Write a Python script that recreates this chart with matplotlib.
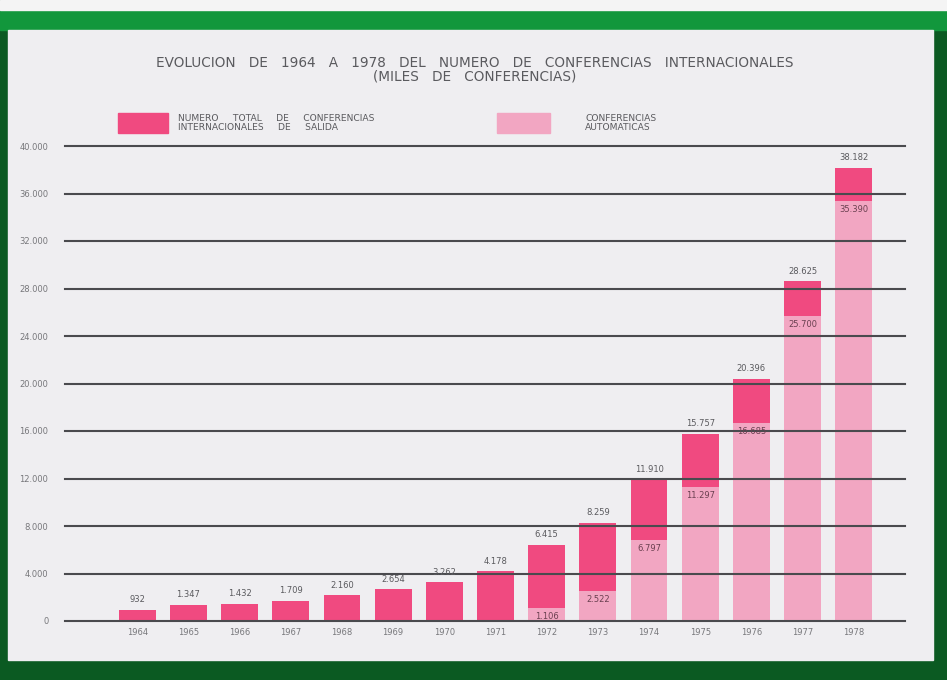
"""Evolucion de conferencias internacionales 1964-1978 (bar chart)."""

import matplotlib

matplotlib.use("Agg")
import matplotlib.pyplot as plt
from matplotlib.patches import Rectangle

YEARS = [1964, 1965, 1966, 1967, 1968, 1969, 1970, 1971,
         1972, 1973, 1974, 1975, 1976, 1977, 1978]
TOTAL = [932, 1347, 1432, 1709, 2160, 2654, 3262, 4178,
         6415, 8259, 11910, 15757, 20396, 28625, 38182]
AUTOMATIC = [0, 0, 0, 0, 0, 0, 0, 0,
             1106, 2522, 6797, 11297, 16685, 25700, 35390]
Y_TICKS = [0, 4000, 8000, 12000, 16000, 20000, 24000, 28000, 32000, 36000, 40000]

TITLE = ("EVOLUCION   DE   1964   A   1978   DEL   NUMERO   DE   CONFERENCIAS   INTERNACIONALES\n"
         "(MILES   DE   CONFERENCIAS)")
LEGEND_TOTAL = "NUMERO     TOTAL     DE     CONFERENCIAS\nINTERNACIONALES     DE     SALIDA"
LEGEND_AUTO = "CONFERENCIAS\nAUTOMATICAS"

DARK_PINK = "#f04a80"
LIGHT_PINK = "#f2a6c2"
PAPER = "#efeef1"
TEXT = "#5a5a5e"
FONT = ["Liberation Sans Narrow", "DejaVu Sans"]

W, H = 947, 680


def fmt(v: int) -> str:
    return f"{v:,}".replace(",", ".")


def px(x, y):
    # figure pixel (from top-left) -> figure fraction
    return x / W, 1 - y / H


def draw_frame(fig) -> None:
    fig.patches.append(Rectangle((0, 0), 1, 1, transform=fig.transFigure,
                                 color="#0b5a22", zorder=-10))
    x0, y0 = px(0, 30)
    fig.patches.append(Rectangle((x0, y0), 1, 20 / H, transform=fig.transFigure,
                                 color="#12973c", zorder=-9))
    fig.patches.append(Rectangle((0, 1 - 10 / H), 1, 10 / H, transform=fig.transFigure,
                                 color="#f4f4f4", zorder=-9))
    x0, y0 = px(8, 660)
    fig.patches.append(Rectangle((x0, y0), (933 - 8) / W, (660 - 30) / H,
                                 transform=fig.transFigure, color=PAPER, zorder=-8))


def main() -> None:
    fig = plt.figure(figsize=(W / 100, H / 100), dpi=100)
    draw_frame(fig)

    left, bottom = px(65, 621)
    right, top = px(905, 146)
    ax = fig.add_axes([left, bottom, right - left, top - bottom])
    ax.set_facecolor("none")

    xs = list(range(len(YEARS)))
    width = 0.72
    dark_heights = [t - a for t, a in zip(TOTAL, AUTOMATIC)]
    ax.bar(xs, AUTOMATIC, width=width, color=LIGHT_PINK, zorder=2)
    ax.bar(xs, dark_heights, bottom=AUTOMATIC, width=width, color=DARK_PINK, zorder=2)

    for y in Y_TICKS:
        ax.axhline(y, color="#4a4a4e", linewidth=1.5, zorder=3, clip_on=False)

    for x, t, a in zip(xs, TOTAL, AUTOMATIC):
        ax.annotate(fmt(t), (x, t), xytext=(0, 4), textcoords="offset points",
                    ha="center", va="bottom", fontsize=6, color=TEXT, family=FONT)
        if a:
            ax.annotate(fmt(a), (x, a), xytext=(0, -3), textcoords="offset points",
                        ha="center", va="top", fontsize=6, color="#6a4050", family=FONT)

    ax.set_xlim(-1.41, 15.0)
    ax.set_ylim(0, 40000)
    ax.set_yticks(Y_TICKS)
    ax.set_yticklabels([fmt(v) for v in Y_TICKS], family=FONT)
    ax.set_xticks(xs)
    ax.set_xticklabels([str(y) for y in YEARS], family=FONT)
    ax.tick_params(axis="both", length=0, labelsize=6, labelcolor="#77777b")
    ax.tick_params(axis="y", pad=12)
    ax.tick_params(axis="x", pad=5)
    for spine in ax.spines.values():
        spine.set_visible(False)

    tx, ty = px(475, 70)
    fig.text(tx, ty, TITLE, ha="center", va="center", fontsize=9.8, color=TEXT,
             family=FONT, linespacing=1.0)

    x0, y0 = px(118, 133)
    fig.patches.append(Rectangle((x0, y0), 50 / W, 20 / H, transform=fig.transFigure,
                                 color=DARK_PINK, zorder=1))
    lx, ly = px(178, 123)
    fig.text(lx, ly, LEGEND_TOTAL, ha="left", va="center", fontsize=6.6, color=TEXT,
             family=FONT, linespacing=1.0)

    x0, y0 = px(497, 133)
    fig.patches.append(Rectangle((x0, y0), 53 / W, 20 / H, transform=fig.transFigure,
                                 color=LIGHT_PINK, zorder=1))
    lx, ly = px(585, 123)
    fig.text(lx, ly, LEGEND_AUTO, ha="left", va="center", fontsize=6.6, color=TEXT,
             family=FONT, linespacing=1.0)

    fig.savefig("out.png", dpi=100)
    plt.close(fig)


if __name__ == "__main__":
    main()
